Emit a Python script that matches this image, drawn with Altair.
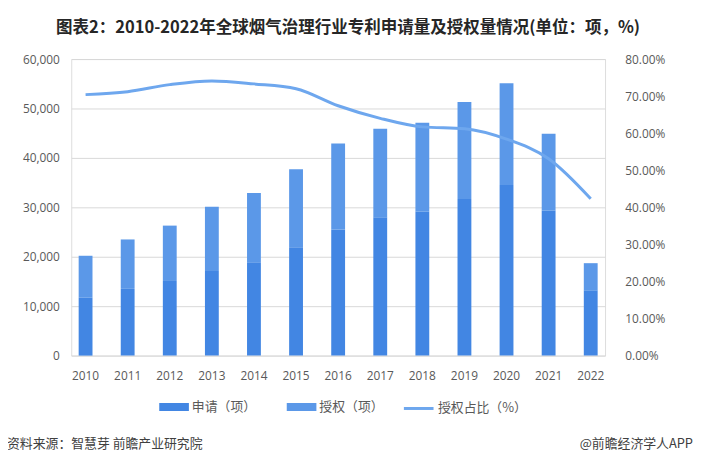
import altair as alt
import pandas as pd

years = [str(y) for y in range(2010, 2023)]
apply_counts = [11700, 13500, 15100, 17100, 18900, 21900, 25500, 28000, 29100, 31700, 34500, 29300, 13100]
grant_counts = [8500, 10000, 11200, 13000, 14000, 15800, 17400, 17900, 18000, 19600, 20600, 15600, 5600]
grant_ratio_pct = [70.4, 71.2, 73.1, 74.1, 73.3, 72.0, 67.4, 64.0, 61.7, 61.2, 58.4, 53.1, 42.3]

series_names = ["申请（项）", "授权（项）"]
line_name = "授权占比（%）"
title_text = "图表2：2010-2022年全球烟气治理行业专利申请量及授权量情况(单位：项，%)"
source_text = "资料来源：智慧芽 前瞻产业研究院"
brand_text = "@前瞻经济学人APP"

DARK = "#4286E3"
LIGHT = "#5B98E8"
LINE = "#6EA7EE"
GRID = "#D9D9D9"
LABEL = "#595959"
CJK = "Noto Sans CJK SC"
NUM = "Open Sans"

rows = []
for y, a, g in zip(years, apply_counts, grant_counts):
    rows.append({"year": y, "series": series_names[0], "value": a, "ord": 0})
    rows.append({"year": y, "series": series_names[1], "value": g, "ord": 1})
bars_df = pd.DataFrame(rows)
line_df = pd.DataFrame({"year": years, "ratio": [r / 100 for r in grant_ratio_pct], "s": line_name})

x_enc = alt.X("year:N", sort=years, title=None,
              scale=alt.Scale(paddingInner=0.66, paddingOuter=0.17),
              axis=alt.Axis(labelAngle=0, ticks=False, domain=False, labelFont=NUM,
                            labelFontSize=12, labelColor=LABEL, labelPadding=15))

bars = alt.Chart(bars_df).mark_bar(size=14).encode(
    x=x_enc,
    y=alt.Y("value:Q", stack="zero", title=None,
            scale=alt.Scale(domain=[0, 60000], nice=False),
            axis=alt.Axis(values=list(range(0, 60001, 10000)), format=",.0f", ticks=False,
                          domain=False, gridColor=GRID, labelFont=NUM, labelFontSize=12,
                          labelColor=LABEL, labelPadding=12)),
    fill=alt.Fill("series:N", sort=series_names,
                  scale=alt.Scale(domain=series_names, range=[DARK, LIGHT]),
                  legend=alt.Legend(orient="none", legendX=89, legendY=337, direction="horizontal",
                                    title=None, symbolType="M-1,-0.27H1V0.27H-1Z", symbolSize=900,
                                    symbolStrokeWidth=0, labelFont=CJK, labelFontSize=13,
                                    labelColor=LABEL, labelOffset=3, columnPadding=30, padding=0)),
    order=alt.Order("ord:Q"),
)

line = alt.Chart(line_df).mark_line(strokeWidth=3, interpolate="monotone").encode(
    x=alt.X("year:N", sort=years),
    y=alt.Y("ratio:Q", title=None,
            scale=alt.Scale(domain=[0, 0.8], nice=False),
            axis=alt.Axis(orient="right", values=[i / 10 for i in range(9)], format=".2%",
                          ticks=False, domain=False, grid=False, labelFont=NUM,
                          labelFontSize=12, labelColor=LABEL, labelPadding=20)),
    stroke=alt.Stroke("s:N", scale=alt.Scale(domain=[line_name], range=[LINE]),
                      legend=alt.Legend(orient="none", legendX=335, legendY=337, title=None,
                                        symbolType="stroke", symbolSize=900, symbolStrokeWidth=3,
                                        labelFont=CJK, labelFontSize=13, labelColor=LABEL,
                                        labelOffset=3, padding=0)),
)

src = alt.Chart(pd.DataFrame({"t": [source_text]})).mark_text(
    align="left", baseline="middle", font=CJK, fontSize=13, color="#404040"
).encode(text="t:N", x=alt.value(-65), y=alt.value(389))

brand = alt.Chart(pd.DataFrame({"t": [brand_text]})).mark_text(
    align="right", baseline="middle", font=CJK, fontSize=13, color="#404040"
).encode(text="t:N", x=alt.value(629), y=alt.value(389))

chart = alt.layer(bars, line, src, brand).resolve_scale(
    y="independent"
).properties(
    width=540, height=300,
    autosize=alt.AutoSizeParams(type="none"),
    padding={"left": 64, "top": 49, "right": 90, "bottom": 106},
    title=alt.TitleParams(title_text, anchor="middle", font=CJK, fontSize=16.7, fontWeight="bold",
                          color="#262626", offset=17, dx=10),
).configure_view(stroke=None).configure(background="white")

chart.save("out.html", embed_options={"renderer": "svg", "actions": False})
